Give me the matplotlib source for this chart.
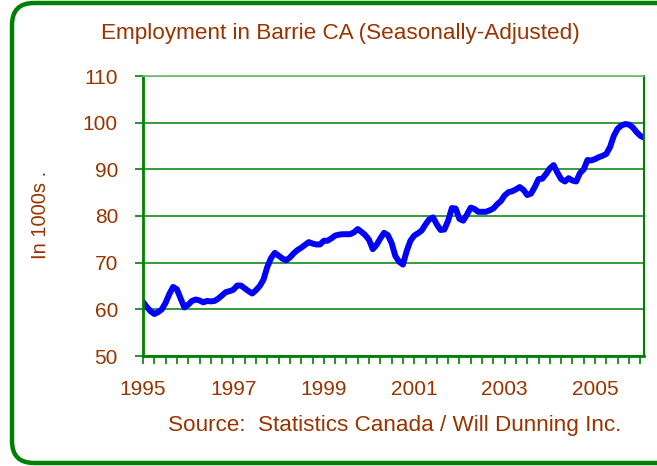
import numpy as np
from matplotlib import pyplot as plt
from matplotlib.patches import FancyBboxPatch

plt.rcParams['font.family'] = ['Liberation Sans', 'DejaVu Sans']

# monthly employment, Jan 1995 .. Feb 2006 (thousands, SA)
employment = [
    61.6, 60.5, 59.6, 59.0, 59.4, 60.0, 61.4, 63.3, 64.8, 64.3, 62.3, 60.4,
    61.0, 61.8, 62.1, 61.9, 61.5, 61.8, 61.7, 61.8, 62.3, 63.0, 63.7, 63.9,
    64.2, 65.1, 65.1, 64.5, 63.9, 63.4, 64.1, 65.0, 66.4, 69.1, 71.0, 72.1,
    71.5, 70.9, 70.5, 71.1, 72.0, 72.7, 73.2, 73.8, 74.4, 74.1, 73.9, 73.9,
    74.7, 74.7, 75.2, 75.8, 76.0, 76.1, 76.1, 76.1, 76.5, 77.2, 76.6, 75.9,
    74.9, 72.9, 73.8, 75.2, 76.4, 75.9, 74.2, 71.4, 70.2, 69.6, 72.5, 74.7,
    75.8, 76.3, 76.9, 78.2, 79.3, 79.7, 78.2, 77.0, 77.1, 79.0, 81.7, 81.6,
    79.4, 79.0, 80.3, 81.8, 81.5, 80.9, 80.9, 80.9, 81.2, 81.6, 82.5, 83.2,
    84.4, 85.1, 85.3, 85.7, 86.2, 85.6, 84.5, 84.8, 86.2, 87.9, 88.0, 89.0,
    90.2, 90.9, 89.3, 87.9, 87.4, 88.1, 87.6, 87.4, 89.2, 90.0, 92.0, 91.9,
    92.2, 92.6, 92.9, 93.3, 94.8, 97.2, 98.7, 99.4, 99.7, 99.6, 99.0, 98.0,
    97.2, 96.8,
]
start_year = 1995
year_labels = ['1995', '1997', '1999', '2001', '2003', '2005']
y_ticks = [50, 60, 70, 80, 90, 100, 110]

brown = '#993300'
green = '#008000'

t = start_year + np.arange(len(employment)) / 12.0

fig = plt.figure(figsize=(6.57, 4.66), dpi=100)
ax = fig.add_axes([143/657, 1 - 356/466, 501/657, 280/466])

ax.plot(t, employment, color='#0000ff', lw=4.3, solid_capstyle='round')

ax.set_xlim(t[0], t[-1])
ax.set_ylim(50, 110)
ax.set_yticks(y_ticks)
ax.set_yticklabels([str(v) for v in y_ticks])
ax.set_xticks([int(s) for s in year_labels])
ax.set_xticklabels(year_labels)
ax.set_xticks(np.arange(start_year, t[-1] + 0.01, 0.25), minor=True)

ax.grid(axis='y', color=green, lw=1.1)
ax.tick_params(axis='both', which='both', direction='out', color=green,
               width=1.2, length=6, labelcolor=brown, labelsize=15)
ax.tick_params(axis='y', pad=12)
ax.tick_params(axis='x', pad=11)

for side in ['left', 'bottom']:
    ax.spines[side].set_color(green)
    ax.spines[side].set_linewidth(2)
ax.spines['top'].set_color('#6fbf6f')
ax.spines['right'].set_color(green)
ax.spines['top'].set_linewidth(1.2)
ax.spines['right'].set_linewidth(1.5)

ax.set_ylabel('In 1000s .', color=brown, fontsize=14.5)
ax.yaxis.set_label_coords(-0.186, 0.504)

fig.text(340/657, 1 - 33/466, 'Employment in Barrie CA (Seasonally-Adjusted)',
         color=brown, fontsize=16.2, ha='center', va='center')
fig.text(395/657, 1 - 426/466, 'Source:  Statistics Canada / Will Dunning Inc.',
         color=brown, fontsize=16.2, ha='center', va='center')

# rounded green frame around everything
frame = fig.add_axes([0, 0, 1, 1], zorder=-1)
frame.set_xlim(0, 657)
frame.set_ylim(0, 466)
frame.axis('off')
frame.add_patch(FancyBboxPatch((32, 23), 650, 420,
                               boxstyle='round,pad=20,rounding_size=22',
                               fc='none', ec=green, lw=3.2))

fig.savefig('out.png', dpi=100)
